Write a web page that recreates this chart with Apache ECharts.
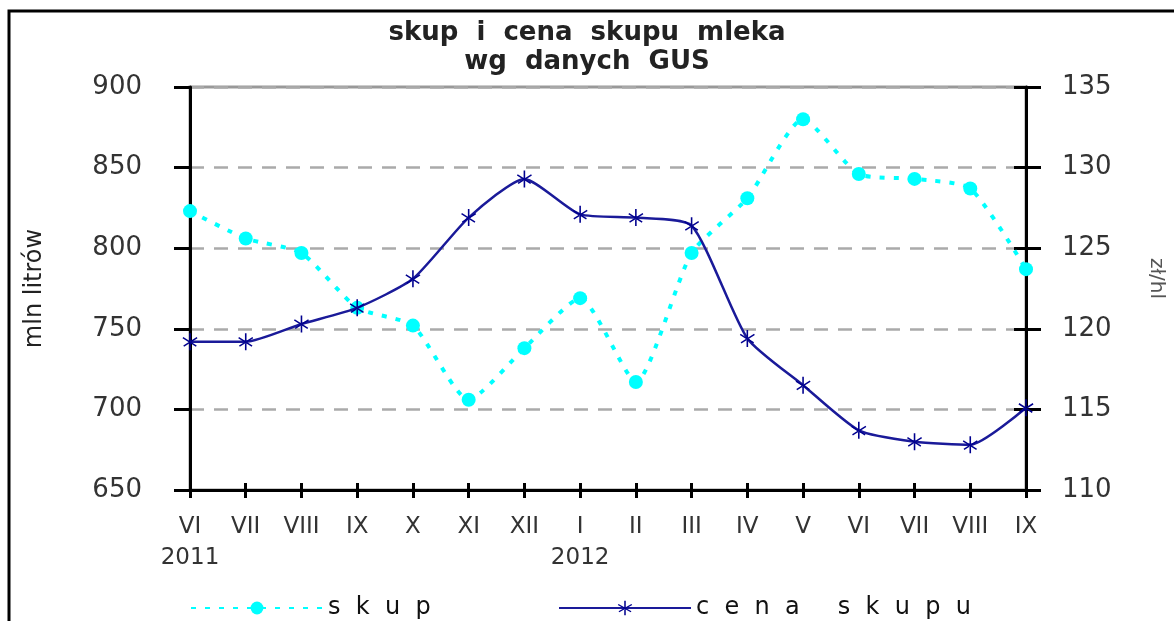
<!DOCTYPE html>
<html>
<head>
<meta charset="utf-8">
<script src="https://cdn.jsdelivr.net/npm/echarts@6/dist/echarts.min.js"></script>
<style>html,body{margin:0;padding:0;background:#fff}#c{width:1174px;height:621px}</style>
</head>
<body>
<div id="c"></div>
<script>
const months = ['VI','VII','VIII','IX','X','XI','XII','I','II','III','IV','V','VI','VII','VIII','IX'];
const years = ['2011','','','','','','','2012','','','','','','','',''];
const skup = [823, 806, 797, 763, 752, 706, 738, 769, 717, 797, 831, 880, 846, 843, 837, 787];
const cena = [119.2, 119.2, 120.3, 121.3, 123.1, 126.9, 129.3, 127.1, 126.9, 126.4, 119.4, 116.5, 113.7, 113.0, 112.8, 115.1];
const titleText = 'skup  i  cena  skupu  mleka\nwg  danych  GUS';
const leftName = 'mln litrów';
const rightName = 'zł/hl';

const FONT = 'DejaVu Sans';
const chart = echarts.init(document.getElementById('c'), null, {renderer: 'canvas'});
const star = 'path://M9,0 L11,0 L11,20 L9,20 Z M1.5,4.5 L18.5,14.5 L17.5,16 L0.5,6 Z M18.5,4.5 L1.5,14.5 L2.5,16 L19.5,6 Z';
const spaced = n => n.split('').join('  ');

chart.setOption({
  animation: false,
  backgroundColor: '#fff',
  textStyle: {fontFamily: FONT},
  title: {
    text: titleText, left: 'center', top: 14,
    textStyle: {fontFamily: FONT, fontSize: 26, fontWeight: 'bold', color: '#222', lineHeight: 29}
  },
  graphic: [{
    type: 'rect', shape: {x: 9, y: 11, width: 1300, height: 800},
    style: {fill: 'none', stroke: '#000', lineWidth: 3}, silent: true, z: 100
  }],
  grid: {left: 190, right: 146, top: 87, bottom: 131, show: true, borderColor: '#999', borderWidth: 3, backgroundColor: 'transparent'},
  legend: [
    {left: 185, top: 591, itemWidth: 132, itemHeight: 16, data: ['skup'],
     formatter: spaced, textStyle: {fontFamily: FONT, fontSize: 24, color: '#111'}},
    {left: 553, top: 591, itemWidth: 132, itemHeight: 18, data: ['cena skupu'],
     formatter: spaced, textStyle: {fontFamily: FONT, fontSize: 24, color: '#111'}}
  ],
  xAxis: [{
    type: 'category', data: months, boundaryGap: false,
    axisLine: {lineStyle: {color: '#000', width: 3}},
    axisTick: {show: true, length: 8, lineStyle: {color: '#000', width: 3}},
    axisLabel: {
      margin: 22, fontSize: 23, color: '#333', fontFamily: FONT, lineHeight: 31, interval: 0,
      formatter: (v, i) => years[i] ? v + '\n' + years[i] : v
    },
    splitLine: {show: false}
  }, {
    type: 'category', data: months, boundaryGap: false, position: 'bottom',
    axisLine: {show: false},
    axisTick: {show: true, inside: true, length: 7, lineStyle: {color: '#000', width: 3}},
    axisLabel: {show: false}, splitLine: {show: false}
  }],
  yAxis: [{
    type: 'value', min: 650, max: 900, interval: 50, position: 'left',
    name: leftName, nameLocation: 'middle', nameGap: 143, nameRotate: 90,
    nameTextStyle: {fontSize: 24, color: '#222', fontFamily: FONT},
    axisLine: {show: true, lineStyle: {color: '#000', width: 3}},
    axisTick: {show: true, length: 16, lineStyle: {color: '#000', width: 3}},
    axisLabel: {margin: 48, fontSize: 26, color: '#333', fontFamily: FONT},
    splitLine: {show: true, lineStyle: {color: '#aaa', width: 2.5, type: [14, 10]}}
  }, {
    type: 'value', min: 110, max: 135, interval: 5, position: 'right',
    name: rightName, nameLocation: 'middle', nameGap: 120, nameRotate: -90,
    nameTextStyle: {fontSize: 20, color: '#555', fontFamily: FONT, padding: [0, 20, 0, 0]},
    axisLine: {show: true, lineStyle: {color: '#000', width: 3}},
    axisTick: {show: true, length: 15, lineStyle: {color: '#000', width: 3}},
    axisLabel: {margin: 36, fontSize: 26, color: '#333', fontFamily: FONT},
    splitLine: {show: false}
  }, {
    type: 'value', min: 110, max: 135, interval: 5, position: 'right',
    axisLine: {show: false},
    axisTick: {show: true, inside: true, length: 12, lineStyle: {color: '#000', width: 3}},
    axisLabel: {show: false}, splitLine: {show: false}
  }],
  series: [{
    name: 'skup', type: 'line', data: skup, yAxisIndex: 0, smooth: 0.2,
    symbol: 'circle', symbolSize: 14,
    itemStyle: {color: '#00ffff'},
    lineStyle: {color: '#00ffff', width: 4, type: [5, 9]},
    z: 3
  }, {
    name: 'cena skupu', type: 'line', data: cena, yAxisIndex: 1, smooth: 0.2,
    symbol: star, symbolSize: [15, 17],
    itemStyle: {color: '#00008f'},
    lineStyle: {color: '#1a1a99', width: 2.5},
    z: 4
  }]
});
</script>
</body>
</html>
